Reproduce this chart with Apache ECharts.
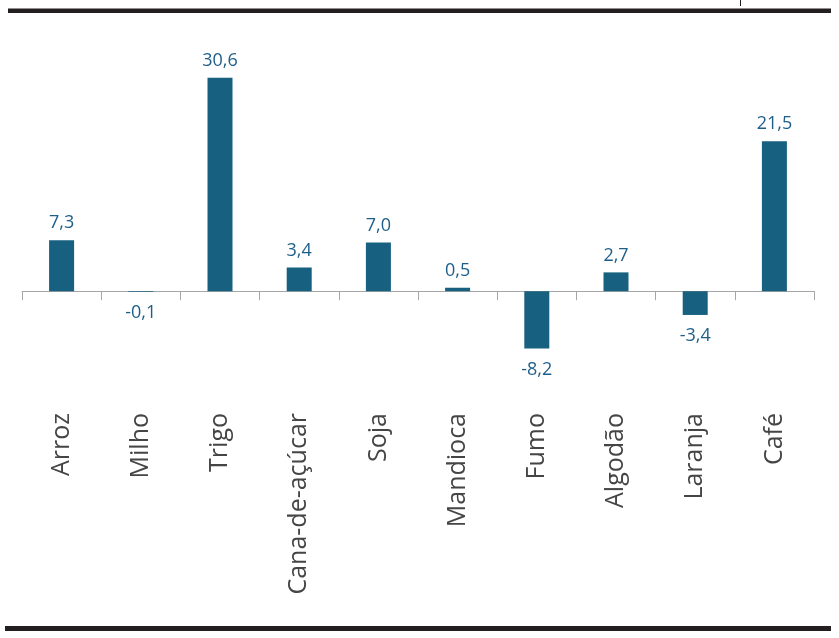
<!DOCTYPE html>
<html>
<head>
<meta charset="utf-8">
<script src="https://cdn.jsdelivr.net/npm/echarts@6/dist/echarts.min.js"></script>
<style>
html,body{margin:0;padding:0;background:#fff;overflow:hidden;}
#chart{width:839px;height:638px;}
</style>
</head>
<body>
<div id="chart"></div>
<script>
const categories = ['Arroz','Milho','Trigo','Cana-de-açúcar','Soja','Mandioca','Fumo','Algodão','Laranja','Café'];
const values = [7.3, -0.1, 30.6, 3.4, 7.0, 0.5, -8.2, 2.7, -3.4, 21.5];

const chart = echarts.init(document.getElementById('chart'), null, {renderer:'canvas', width: 839, height: 638});
chart.setOption({
  animation: false,
  backgroundColor: '#ffffff',
  grid: {left: 22, width: 792, top: 47, height: 314, containLabel: false},
  xAxis: {
    type: 'category',
    data: categories,
    boundaryGap: true,
    axisLine: {onZero: true, lineStyle: {color: '#a6a6a6', width: 1}},
    axisTick: {show: true, length: 9, lineStyle: {color: '#a6a6a6', width: 1}},
    axisLabel: {
      rotate: 90, margin: 52, interval: 0,
      fontFamily: 'Open Sans', fontSize: 25, color: '#454545'
    },
    splitLine: {show: false}
  },
  yAxis: {
    type: 'value', min: -10, max: 35,
    show: false, splitLine: {show: false}
  },
  series: [{
    type: 'bar',
    data: values.map(v => v < 0 ? {value: v, label: {distance: 12}} : v),
    barWidth: 25,
    itemStyle: {color: '#17607f'},
    label: {
      show: true,
      position: 'outside',
      distance: 8,
      fontFamily: 'Open Sans',
      fontSize: 18,
      color: '#1e5f8a',
      formatter: p => p.value.toFixed(1).replace('.', ',')
    }
  }],
  graphic: [
    {type: 'rect', shape: {x: 8, y: 8.5, width: 823, height: 4.5}, style: {fill: '#231f20'}},
    {type: 'rect', shape: {x: 5, y: 626, width: 826, height: 5}, style: {fill: '#231f20'}},
    {type: 'line', shape: {x1: 740.5, y1: 0, x2: 740.5, y2: 6}, style: {stroke: '#231f20', lineWidth: 1}}
  ]
});
</script>
</body>
</html>
